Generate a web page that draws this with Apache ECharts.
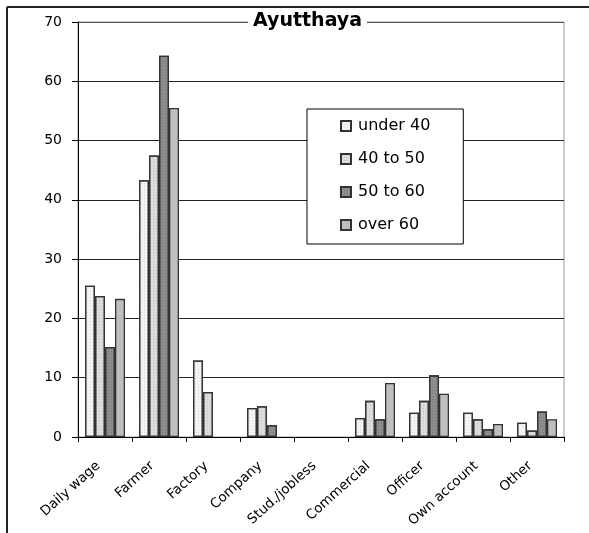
<!DOCTYPE html>
<html>
<head>
<meta charset="utf-8">
<script src="https://cdn.jsdelivr.net/npm/echarts@6/dist/echarts.min.js"></script>
<style>
  html, body { margin: 0; padding: 0; background: #fff; }
  #chart { width: 589px; height: 533px; }
</style>
</head>
<body>
<div id="chart"></div>
<script>
// Occupation share (%) by age group, Ayutthaya
const categories = ['Daily wage', 'Farmer', 'Factory', 'Company', 'Stud./jobless',
                    'Commercial', 'Officer', 'Own account', 'Other'];
const seriesNames = ['under 40', '40 to 50', '50 to 60', 'over 60'];
const under40 = [25.5, 43.3, 12.9, 4.9, 0, 3.2, 4.1, 4.1, 2.4];
const from40to50 = [23.8, 47.5, 7.6, 5.2, 0, 6.1, 6.1, 3.0, 1.1];
const from50to60 = [15.2, 64.3, 0, 2.0, 0, 3.0, 10.4, 1.3, 4.3];
const over60 = [23.3, 55.5, 0, 0, 0, 9.1, 7.3, 2.2, 3.0];
const yTicks = [0, 10, 20, 30, 40, 50, 60, 70];

const FONT = 'DejaVu Sans';
const fills = ['#f4f4f4', '#dcdcdc', '#8e8e8e', '#bfbfbf'];
const dotted = [true, true, true, false];
const values = [under40, from40to50, from50to60, over60];

const series = seriesNames.map((name, i) => {
  const itemStyle = {
    color: fills[i],
    borderColor: '#333',
    borderWidth: 1.3
  };
  if (dotted[i]) {
    // fine stipple like the printed fills
    itemStyle.decal = {
      symbol: 'rect',
      symbolSize: 1,
      dashArrayX: [1, 2],
      dashArrayY: [1, 2],
      color: i === 2 ? 'rgba(0,0,0,0.16)' : 'rgba(0,0,0,0.10)'
    };
  }
  return {
    name: name,
    type: 'bar',
    // zero shares are left empty so no flat outline is drawn on the axis
    data: values[i].map(v => (v === 0 ? null : v)),
    barWidth: 10,
    barGap: '0%',
    itemStyle: itemStyle
  };
});

const chart = echarts.init(document.getElementById('chart'), null, { renderer: 'canvas' });
chart.setOption({
  animation: false,
  backgroundColor: '#fff',
  textStyle: { fontFamily: FONT },
  title: {
    text: 'Ayutthaya',
    left: 248,
    top: 9,
    padding: [3, 5],
    backgroundColor: '#fff',
    textStyle: { fontFamily: FONT, fontSize: 19, fontWeight: 'bold', color: '#000' }
  },
  legend: {
    data: seriesNames,
    orient: 'vertical',
    left: 307,
    top: 109,
    padding: [9, 33, 11, 33],
    itemGap: 17,
    itemWidth: 10,
    itemHeight: 10,
    icon: 'rect',
    backgroundColor: '#fff',
    borderColor: '#000',
    borderWidth: 1,
    selectedMode: false,
    textStyle: { fontFamily: FONT, fontSize: 16, color: '#000', lineHeight: 16, padding: [0, 0, 0, 2] }
  },
  grid: {
    left: 78, top: 22, right: 25, bottom: 96,
    show: true,
    borderColor: '#999',
    borderWidth: 1,
    backgroundColor: 'transparent'
  },
  xAxis: {
    type: 'category',
    data: categories,
    axisLine: { lineStyle: { color: '#000', width: 1 } },
    axisTick: { show: true, length: 5, lineStyle: { color: '#000' } },
    axisLabel: {
      rotate: 42, fontSize: 13.5, color: '#000', margin: 21, interval: 0,
      fontFamily: FONT, padding: [0, 9, 0, 0]
    },
    splitLine: { show: false }
  },
  yAxis: {
    type: 'value',
    min: yTicks[0],
    max: yTicks[yTicks.length - 1],
    interval: 10,
    axisLine: { show: true, lineStyle: { color: '#000', width: 1 } },
    axisTick: { show: true, length: 6, lineStyle: { color: '#000' } },
    axisLabel: { fontSize: 14, color: '#000', margin: 16, fontFamily: FONT },
    splitLine: { show: true, lineStyle: { color: ['#222', '#222', '#222', '#222', '#222', '#222', '#222', '#555'], width: 1 } }
  },
  series: series,
  graphic: [
    { type: 'line', shape: { x1: 7, y1: 7, x2: 589, y2: 7 }, style: { stroke: '#222', lineWidth: 2 }, z: 10 },
    { type: 'line', shape: { x1: 7, y1: 7, x2: 7, y2: 533 }, style: { stroke: '#222', lineWidth: 2 }, z: 10 }
  ]
});
</script>
</body>
</html>
